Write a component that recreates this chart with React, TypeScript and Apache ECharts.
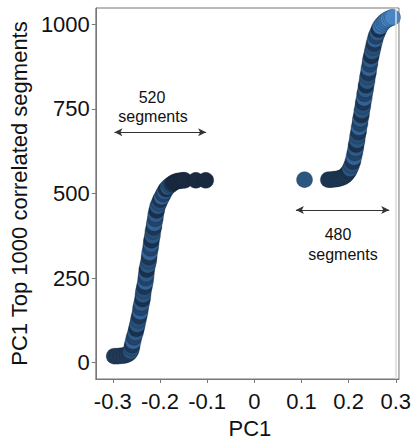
import React, { useEffect, useRef } from "react";
import * as echarts from "echarts";

// Left group (520 segments): [PC1, rank]
const leftPC1 = [
  -0.297, -0.290, -0.283, -0.276, -0.270, -0.265, -0.262, -0.260, -0.259, -0.257,
  -0.255, -0.252, -0.250, -0.248, -0.246, -0.244, -0.242, -0.241, -0.239, -0.237,
  -0.236, -0.235, -0.233, -0.231, -0.230, -0.229, -0.228, -0.226, -0.224, -0.223,
  -0.222, -0.220, -0.219, -0.218, -0.216, -0.215, -0.213, -0.212, -0.210, -0.209,
  -0.207, -0.205, -0.202, -0.199, -0.196, -0.193, -0.190, -0.187, -0.183, -0.179,
  -0.175, -0.171, -0.167, -0.162, -0.157, -0.152, -0.148, -0.124, -0.103,
];
const leftRank = [
  19, 19, 20, 21, 24, 28, 34, 42, 52, 63,
  75, 88, 100, 112, 125, 138, 150, 162, 175, 188,
  200, 212, 225, 238, 250, 262, 275, 288, 300, 312,
  325, 338, 350, 362, 375, 388, 400, 412, 425, 438,
  450, 462, 472, 482, 490, 498, 506, 513, 519, 524,
  528, 532, 535, 537, 538, 539, 539, 539, 539,
];

// Right group (480 segments): [PC1, rank]
const rightPC1 = [
  0.1065, 0.157, 0.163, 0.169, 0.175, 0.181, 0.187, 0.192, 0.196, 0.200,
  0.203, 0.206, 0.209, 0.211, 0.213, 0.215, 0.216, 0.218, 0.219, 0.221,
  0.222, 0.224, 0.225, 0.227, 0.228, 0.230, 0.231, 0.233, 0.234, 0.236,
  0.237, 0.239, 0.240, 0.242, 0.243, 0.245, 0.246, 0.248, 0.250, 0.252,
  0.254, 0.256, 0.258, 0.261, 0.264, 0.267, 0.271, 0.275, 0.279, 0.284,
  0.289, 0.293,
];
const rightRank = [
  541, 541, 541, 542, 543, 545, 548, 552, 558, 565,
  573, 583, 595, 607, 620, 633, 645, 657, 670, 682,
  695, 707, 720, 732, 745, 757, 770, 782, 795, 807,
  820, 832, 845, 857, 870, 882, 895, 907, 920, 932,
  944, 955, 965, 975, 985, 994, 1001, 1007, 1012, 1016,
  1019, 1021,
];

const xTicks = [-0.3, -0.2, -0.1, 0, 0.1, 0.2, 0.3];
const yTicks = [0, 250, 500, 750, 1000];

const leftArrow = { x1: -0.2966, x2: -0.1022, y: 681 };
const rightArrow = { x1: 0.0882, x2: 0.286, y: 451 };

const mottle = ["#274e76", "#1c3756", "#336396", "#22436a", "#2d5a88", "#1a304c", "#2a5680"];

export default function App() {
  const ref = useRef<HTMLDivElement>(null);
  useEffect(() => {
    if (!ref.current) return;
    const chart = echarts.init(ref.current, undefined, { renderer: "svg" });
    const font = "'Liberation Sans', Arial, Helvetica, sans-serif";

    const leftData = leftPC1.map((x, i) => {
      const y = leftRank[i];
      let color = mottle[i % mottle.length];
      if (y >= 530) color = "#192a40";
      else if (y < 30) color = "#213b58";
      return { value: [x, y], itemStyle: { color } };
    });
    const rightData = rightPC1.map((x, i) => {
      const y = rightRank[i];
      let color = mottle[(i + 3) % mottle.length];
      if (i === 0) color = "#2b5680";
      else if (y < 560) color = "#1d3754";
      else if (y >= 1015) color = "#4785c4";
      else if (y >= 990) color = "#3b74ae";
      return { value: [x, y], itemStyle: { color } };
    });

    const arrowLine = (a: { x1: number; x2: number; y: number }) => [
      { coord: [a.x1, a.y] },
      { coord: [a.x2, a.y] },
    ];

    chart.setOption({
      animation: false,
      backgroundColor: "#ffffff",
      grid: {
        left: 87,
        right: 11,
        top: 8,
        bottom: 59,
        show: true,
        borderColor: "#777777",
        borderWidth: 1,
      },
      xAxis: {
        type: "value",
        min: -0.336,
        max: 0.3067,
        name: "PC1",
        nameLocation: "middle",
        nameGap: 38,
        nameTextStyle: { fontFamily: font, fontSize: 22, color: "#111", padding: [0, 0, 0, 5] },
        axisLine: { show: true, onZero: false, lineStyle: { color: "#777777", width: 1 } },
        axisTick: { show: true, length: 4, lineStyle: { color: "#777777" }, customValues: xTicks },
        axisLabel: {
          customValues: xTicks,
          fontFamily: font,
          fontSize: 22,
          color: "#111",
          margin: 11,
          formatter: (v: number) => (Math.abs(v) < 1e-9 ? "0" : v.toFixed(1)),
        },
        splitLine: { show: false },
      },
      yAxis: {
        type: "value",
        min: -48.6,
        max: 1048.6,
        name: "PC1 Top 1000 correlated segments",
        nameLocation: "middle",
        nameGap: 52,
        nameTextStyle: { fontFamily: font, fontSize: 22, color: "#111" },
        axisLine: { show: true, onZero: false, lineStyle: { color: "#777777", width: 1 } },
        axisTick: { show: true, length: 4, lineStyle: { color: "#777777" }, customValues: yTicks },
        axisLabel: {
          customValues: yTicks,
          fontFamily: font,
          fontSize: 22,
          color: "#111",
          margin: 6,
          formatter: (v: number) => String(Math.round(v)),
        },
        splitLine: { show: false },
      },
      series: [
        {
          type: "scatter",
          symbol: "circle",
          symbolSize: 16,
          data: leftData,
          itemStyle: { opacity: 1, borderColor: "rgba(18,30,48,0.5)", borderWidth: 0.6 },
          markLine: {
            silent: true,
            symbol: ["arrow", "arrow"],
            symbolSize: [6, 8],
            label: { show: false },
            lineStyle: { color: "#333333", width: 1.2, type: "solid" },
            data: [arrowLine(leftArrow), arrowLine(rightArrow)],
          },
        },
        {
          type: "scatter",
          symbol: "circle",
          symbolSize: 16,
          data: rightData,
          itemStyle: { opacity: 1, borderColor: "rgba(18,30,48,0.5)", borderWidth: 0.6 },
          markLine: {
            silent: true,
            symbol: ["none", "none"],
            label: { show: false },
            lineStyle: { color: "#dddddd", width: 1.5, type: "solid" },
            data: [{ xAxis: 0.2965 }],
          },
        },
      ],
      graphic: [
        { type: "text", x: 152, y: 97, style: { text: "520", fontFamily: font, fontSize: 16, fill: "#111", align: "center", verticalAlign: "middle" } },
        { type: "text", x: 153, y: 116, style: { text: "segments", fontFamily: font, fontSize: 16, fill: "#111", align: "center", verticalAlign: "middle" } },
        { type: "text", x: 338, y: 234, style: { text: "480", fontFamily: font, fontSize: 16, fill: "#111", align: "center", verticalAlign: "middle" } },
        { type: "text", x: 343, y: 254, style: { text: "segments", fontFamily: font, fontSize: 16, fill: "#111", align: "center", verticalAlign: "middle" } },
      ],
    });
    return () => chart.dispose();
  }, []);
  return <div ref={ref} style={{ width: 414, height: 444, position: "absolute", left: 0, top: 0 }} />;
}
